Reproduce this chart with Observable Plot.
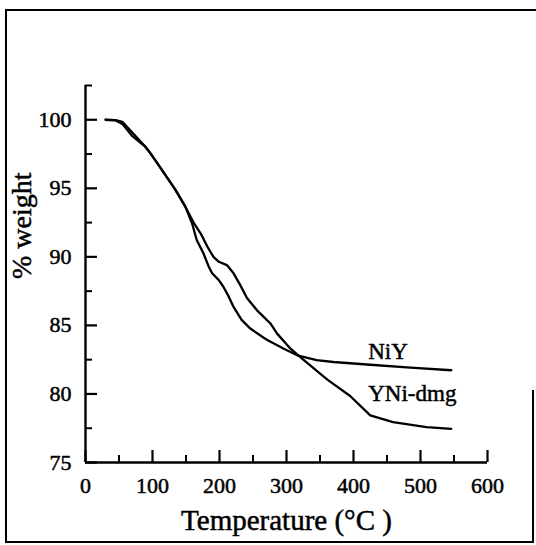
<!DOCTYPE html>
<html><head><meta charset="utf-8">
<script src="https://cdn.jsdelivr.net/npm/d3@7"></script>
<script src="https://cdn.jsdelivr.net/npm/@observablehq/plot@0.6"></script>
<style>
body{margin:0;background:#fff;}
#wrap{position:relative;width:536px;height:545px;overflow:hidden;}
#wrap svg{position:absolute;left:0;top:0;}
.b{position:absolute;background:#000;}
</style></head><body>
<div id="wrap"></div>
<script>
// ---- data ----
const niyTemp   = [30,45,55,70,89,97,114,134,149,159,166,176,184,189,199,206,214,221,233,246,266,272,296,316,345,370,420,485,546];
const niyWeight = [100,99.95,99.7,98.8,98.05,97.55,96.35,94.9,93.66,92.45,91.23,90.26,89.28,88.8,88.3,87.8,87.08,86.35,85.4,84.77,84.1,83.92,83.3,82.82,82.46,82.33,82.15,81.92,81.73];
const yniTemp   = [30,45,55,75,89,97,114,134,149,157,162,172,182,191,199,211,221,231,241,256,266,276,286,306,325,361,395,425,459,509,546];
const yniWeight = [100,99.97,99.85,98.8,98.05,97.55,96.35,94.9,93.66,92.9,92.45,91.7,90.74,90.0,89.64,89.4,88.8,87.94,87.0,86.1,85.62,85.14,84.4,83.3,82.5,81.05,79.85,78.44,77.95,77.58,77.46];
const seriesNames = ["NiY", "YNi-dmg"];
const xTicks = [0,100,200,300,400,500,600];
const xMinor = [50,150,250,350,450,550];
const yTicks = [75,80,85,90,95,100];
const yMinor = [77.5,82.5,87.5,92.5,97.5,102.5];
const xTitle = "Temperature (\u00B0C )";
const yTitle = "% weight";

// ---- build table ----
const rows = [
  ...niyTemp.map((t, i) => ({series: seriesNames[0], t, w: niyWeight[i]})),
  ...yniTemp.map((t, i) => ({series: seriesNames[1], t, w: yniWeight[i]}))
];
const labelRows = [
  {text: seriesNames[0], t: 422, w: 83.1},
  {text: seriesNames[1], t: 422, w: 80.0}
];

const W = 536, H = 545, mL = 85, mR = 49, mT = 85, mB = 83;
const xDom = [0, 600], yDom = [75, 102.5];
const xPerPx = (xDom[1] - xDom[0]) / (W - mL - mR);
const yPerPx = (yDom[1] - yDom[0]) / (H - mT - mB);
const majLen = 12, minLen = 7;
const heavy = {fill: "#000", stroke: "#000", strokeWidth: 0.5};

const chart = Plot.plot({
  width: W, height: H,
  marginLeft: mL, marginRight: mR, marginTop: mT, marginBottom: mB,
  x: {domain: xDom, axis: null},
  y: {domain: yDom, axis: null},
  style: {fontFamily: "'Liberation Serif', 'DejaVu Serif', serif", fontSize: "22px", color: "#000", background: "transparent", overflow: "visible"},
  marks: [
    // axis lines
    Plot.ruleX([xDom[0]], {y1: yDom[0], y2: yDom[1], stroke: "#000", strokeWidth: 2.4}),
    Plot.ruleY([yDom[0]], {x1: xDom[0], x2: xDom[1], stroke: "#000", strokeWidth: 2.4}),
    // inward ticks
    Plot.ruleX(xTicks, {x: d => d, y1: yDom[0], y2: yDom[0] + majLen * yPerPx, stroke: "#000", strokeWidth: 2.2}),
    Plot.ruleX(xMinor, {x: d => d, y1: yDom[0], y2: yDom[0] + minLen * yPerPx, stroke: "#000", strokeWidth: 2}),
    Plot.ruleY(yTicks, {y: d => d, x1: xDom[0], x2: xDom[0] + majLen * xPerPx, stroke: "#000", strokeWidth: 2.2}),
    Plot.ruleY(yMinor, {y: d => d, x1: xDom[0], x2: xDom[0] + minLen * xPerPx, stroke: "#000", strokeWidth: 2}),
    // tick labels
    Plot.text(yTicks, {x: xDom[0], y: d => d, text: d => String(d), textAnchor: "end", dx: -14, fontSize: 22, ...heavy}),
    Plot.text(xTicks, {x: d => d, y: yDom[0], text: d => String(d), dy: 23, fontSize: 22, ...heavy}),
    // curves
    Plot.line(rows, {x: "t", y: "w", z: "series", stroke: "#000", strokeWidth: 2.3}),
    // series labels
    Plot.text(labelRows, {x: "t", y: "w", text: "text", textAnchor: "start", fontSize: 23, ...heavy}),
    // axis titles
    Plot.text([xTitle], {frameAnchor: "bottom", dy: 67, fontSize: 29, ...heavy}),
    Plot.text([yTitle], {frameAnchor: "left", rotate: -90, dx: -63, dy: 5, fontSize: 28, ...heavy})
  ]
});
const wrap = document.getElementById("wrap");
wrap.appendChild(chart);
// outer frame of the figure
[[5,9,531,2],[5,9,2,534],[5,541,529,2],[532,390,2,153]].forEach(([l,t,w,h]) => {
  const d = document.createElement("div");
  d.className = "b";
  Object.assign(d.style, {left: l + "px", top: t + "px", width: w + "px", height: h + "px"});
  wrap.appendChild(d);
});
</script>
</body></html>
